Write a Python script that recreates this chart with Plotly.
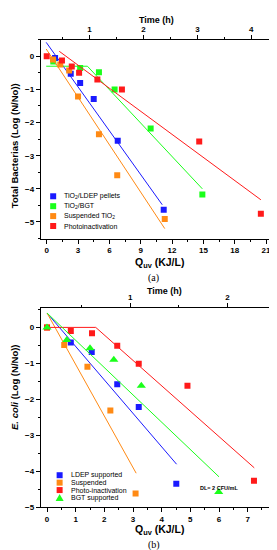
import plotly.graph_objects as go

# ---------------- Data: panel (a) Total bacteria ----------------
a_ldep_q = [0.8, 2.3, 3.2, 4.5, 6.8, 11.2]
a_ldep_y = [-0.05, -0.53, -0.81, -1.29, -2.55, -4.63]
a_bgt_q = [0.63, 3.2, 5.0, 6.5, 9.95, 14.9]
a_bgt_y = [-0.16, -0.35, -0.48, -1.0, -2.18, -4.17]
a_susp_q = [0.6, 1.3, 2.15, 3.0, 5.0, 6.75, 11.3]
a_susp_y = [-0.1, -0.25, -0.43, -1.21, -2.35, -3.59, -4.91]
a_photo_q = [0.0, 1.46, 2.4, 3.1, 4.85, 7.2, 14.6, 20.5]
a_photo_y = [0.0, -0.13, -0.31, -0.5, -0.7, -1.0, -2.57, -4.75]

a_ldep_fit_q = [-0.05, 11.06]
a_ldep_fit_y = [0.42, -4.48]
a_bgt_fit_q = [-0.05, 3.9, 14.9]
a_bgt_fit_y = [-0.3, -0.3, -4.0]
a_susp_fit_q = [-0.05, 11.3]
a_susp_fit_y = [0.22, -5.2]
a_photo_fit_q = [1.2, 20.5]
a_photo_fit_y = [0.15, -4.33]

# ---------------- Data: panel (b) E. coli ----------------
b_ldep_q = [0.83, 1.56, 2.45, 3.2, 4.51]
b_ldep_y = [-0.42, -0.68, -1.58, -2.21, -4.34]
b_susp_q = [0.0, 0.6, 1.41, 2.21, 3.09]
b_susp_y = [0.0, -0.49, -1.09, -2.31, -4.61]
b_photo_q = [0.0, 0.83, 1.57, 2.45, 3.2, 4.9, 7.22]
b_photo_y = [0.0, -0.1, -0.16, -0.51, -1.01, -1.62, -4.26]
b_bgt_q = [0.0, 0.69, 1.5, 2.33, 3.29, 5.99]
b_bgt_y = [0.0, -0.35, -0.58, -0.9, -1.62, -4.57]

b_ldep_fit_q = [0.0, 4.52]
b_ldep_fit_y = [0.4, -3.8]
b_susp_fit_q = [0.0, 3.11]
b_susp_fit_y = [0.4, -4.05]
b_photo_fit_q = [0.0, 1.7, 7.23]
b_photo_fit_y = [0.0, 0.0, -3.9]
b_bgt_fit_q = [0.0, 6.0]
b_bgt_fit_y = [0.4, -4.15]

a_xticks = [0, 3, 6, 9, 12, 15, 18, 21]
a_yticks = [0, -1, -2, -3, -4, -5]
a_time_ticks = [1, 2, 3, 4]
b_xticks = [0, 1, 2, 3, 4, 5, 6, 7, 8]
b_yticks = [0, -1, -2, -3, -4, -5]
b_time_ticks = [1, 2]

a_names = ["TiO<sub>2</sub>/LDEP pellets", "TiO<sub>2</sub>/BGT",
           "Suspended TiO<sub>2</sub>", "Photoinactivation"]
b_names = ["LDEP supported", "Suspended", "Photo-inactivation", "BGT supported"]

BLUE = "#1a1aff"
GREEN = "#1aff1a"
ORANGE = "#ff8a14"
RED = "#ff1a1a"

W, H = 277, 550
FONT = "Liberation Sans"

fig = go.Figure()


def add_series(q, y, fq, fy, color, symbol, xa, ya, msize=6):
    fig.add_trace(go.Scatter(x=fq, y=fy, mode="lines", xaxis=xa, yaxis=ya,
                             line=dict(color=color, width=1), showlegend=False,
                             hoverinfo="skip"))
    fig.add_trace(go.Scatter(x=q, y=y, mode="markers", xaxis=xa, yaxis=ya,
                             marker=dict(color=color, symbol=symbol, size=msize,
                                         line=dict(width=0)),
                             showlegend=False))


# panel (a)
add_series(a_ldep_q, a_ldep_y, a_ldep_fit_q, a_ldep_fit_y, BLUE, "square", "x", "y")
add_series(a_bgt_q, a_bgt_y, a_bgt_fit_q, a_bgt_fit_y, GREEN, "square", "x", "y")
add_series(a_susp_q, a_susp_y, a_susp_fit_q, a_susp_fit_y, ORANGE, "square", "x", "y")
add_series(a_photo_q, a_photo_y, a_photo_fit_q, a_photo_fit_y, RED, "square", "x", "y")

# panel (b)
add_series(b_ldep_q, b_ldep_y, b_ldep_fit_q, b_ldep_fit_y, BLUE, "square", "x3", "y2")
add_series(b_susp_q, b_susp_y, b_susp_fit_q, b_susp_fit_y, ORANGE, "square", "x3", "y2")
add_series(b_photo_q, b_photo_y, b_photo_fit_q, b_photo_fit_y, RED, "square", "x3", "y2")
add_series(b_bgt_q, b_bgt_y, b_bgt_fit_q, b_bgt_fit_y, GREEN, "triangle-up", "x3", "y2", msize=8)

# empty traces so that the secondary (time) axes get drawn
fig.add_trace(go.Scatter(x=[], y=[], xaxis="x2", yaxis="y", showlegend=False, hoverinfo="skip"))
fig.add_trace(go.Scatter(x=[], y=[], xaxis="x4", yaxis="y2", showlegend=False, hoverinfo="skip"))

XDOM = [33 / W, 271 / W]
A_YDOM = [1 - 233 / H, 1 - 32 / H]
B_YDOM = [1 - 504 / H, 1 - 303 / H]

tickfont = dict(family=FONT, size=8, color="black", weight="bold")
common = dict(showline=True, linecolor="black", linewidth=1, ticks="outside",
              ticklen=4, tickwidth=1, tickcolor="black", showgrid=False,
              zeroline=False, tickfont=tickfont)


def minor(d):
    return dict(dtick=d, tick0=0, ticks="outside", ticklen=2, tickcolor="black", showgrid=False)


fig.update_layout(
    width=W, height=H, autosize=False,
    margin=dict(l=0, r=0, t=0, b=0),
    paper_bgcolor="white", plot_bgcolor="white",
    showlegend=False,
    xaxis=dict(domain=XDOM, anchor="y", range=[-0.57, 22.05],
               tickvals=a_xticks, minor=minor(1.5), **common),
    xaxis2=dict(overlaying="x", side="top", anchor="y", range=[0.098, 4.477],
                tickvals=a_time_ticks, minor=minor(0.5), **common),
    yaxis=dict(domain=A_YDOM, anchor="x", range=[-5.51, 0.5],
               tickvals=a_yticks, mirror=True, minor=minor(0.5), **common),
    xaxis3=dict(domain=XDOM, anchor="y2", range=[-0.218, 8.025],
                tickvals=b_xticks, minor=minor(0.5), **common),
    xaxis4=dict(overlaying="x3", side="top", anchor="y2", range=[0.082, 2.51],
                tickvals=b_time_ticks, minor=minor(0.5), **common),
    yaxis2=dict(domain=B_YDOM, anchor="x3", range=[-5.0, 0.532],
                tickvals=b_yticks, mirror=True, minor=minor(0.5), **common),
)

ann = []
shapes = []


def txt(x, y, text, size=9, bold=True, angle=0, family=FONT, xanchor="center"):
    ann.append(dict(x=x / W, y=1 - y / H, xref="paper", yref="paper", text=text,
                    showarrow=False, textangle=angle, xanchor=xanchor, yanchor="middle",
                    font=dict(family=family, size=size, color="black",
                              weight="bold" if bold else "normal")))


# titles
txt(6.5, 139, "Total Bacterias (Log (N/No))", size=9.5, angle=-90)
txt(6.5, 382, "<i>E. coli</i> (Log (N/No))", size=9.5, angle=-90)
txt(150, 12, "Time (h)", size=9)
txt(158, 286, "Time (h)", size=9)
txt(153, 257, "Q<sub>uv</sub> (KJ/L)", size=10.5)
txt(153, 527, "Q<sub>uv</sub> (KJ/L)", size=10.5)
txt(147, 272, "(a)", size=10, bold=False, family="Liberation Serif")
txt(147, 542, "(b)", size=10, bold=False, family="Liberation Serif")

# DL annotation in data coords
ann.append(dict(x=6.0, y=-4.47, xref="x3", yref="y2", text="DL= 2 CFU/mL",
                showarrow=False, font=dict(family=FONT, size=5.5, color="black", weight="bold")))


def legend_item(px, py, color, label, symbol="square"):
    if symbol == "square":
        shapes.append(dict(type="rect", xref="paper", yref="paper",
                           xsizemode="pixel", ysizemode="pixel",
                           xanchor=px / W, yanchor=1 - py / H,
                           x0=-3, x1=3, y0=-3, y1=3,
                           fillcolor=color, line=dict(width=0)))
    else:
        shapes.append(dict(type="path", xref="paper", yref="paper",
                           xsizemode="pixel", ysizemode="pixel",
                           xanchor=px / W, yanchor=1 - py / H,
                           path="M -4,-3.5 L 4,-3.5 L 0,3.5 Z",
                           fillcolor=color, line=dict(width=0)))
    txt(px + 9, py, label, size=7, bold=False, xanchor="left")


a_leg_colors = [BLUE, GREEN, ORANGE, RED]
for i, (c, n) in enumerate(zip(a_leg_colors, a_names)):
    legend_item(45.5, 190 + 10 * i, c, n)

b_leg_colors = [BLUE, ORANGE, RED, GREEN]
b_syms = ["square", "square", "square", "triangle"]
for i, (c, n, s) in enumerate(zip(b_leg_colors, b_names, b_syms)):
    legend_item(52, 471.5 + 7.5 * i, c, n, s)

fig.update_layout(annotations=ann, shapes=shapes)

fig.write_html("out.html")
